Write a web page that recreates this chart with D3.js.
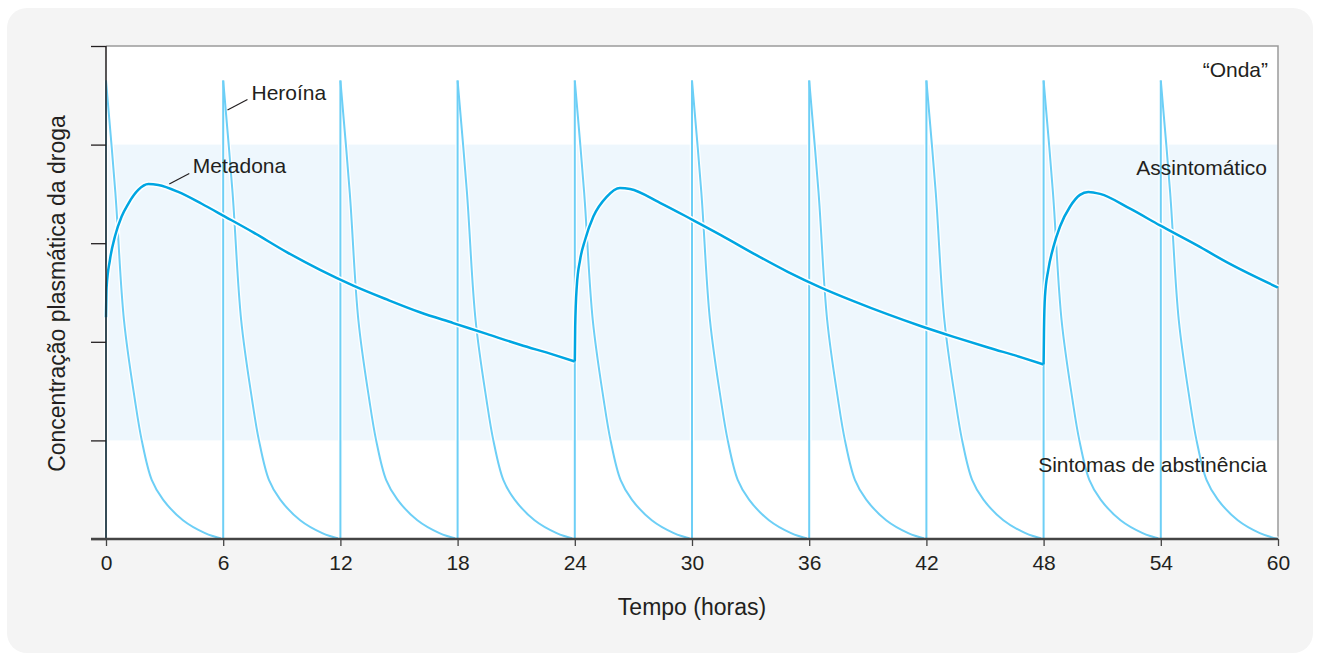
<!DOCTYPE html>
<html>
<head>
<meta charset="utf-8">
<script src="https://cdn.jsdelivr.net/npm/d3@7"></script>
<style>
  html, body { margin: 0; padding: 0; background: #ffffff; }
  svg { display: block; }
  text { font-family: "Liberation Sans", Arial, Helvetica, sans-serif; fill: #231f20; }
</style>
</head>
<body>
<svg id="chart" width="1321" height="655"></svg>
<script>
// Hours on the x axis, ticks every 6 h
const xTicks = [0, 6, 12, 18, 24, 30, 36, 42, 48, 54, 60];
// Concentration axis: unlabeled ticks
const yTicks = [0, 1, 2, 3, 4, 5];
// Asymptomatic window (between withdrawal and "high")
const comfortBand = [1, 4];

// Heroin: a dose every 6 hours
const heroinDoses = [0, 6, 12, 18, 24, 30, 36, 42, 48, 54];
const heroinPeak = 4.65;
// Decay after each heroin dose: [hours since dose, concentration]
const heroinDecay = [
  [0, 4.65], [0.48, 3.51], [0.92, 2.22], [1.48, 1.41], [1.83, 1.0],
  [2.34, 0.60], [2.92, 0.40], [3.94, 0.19], [5.07, 0.06], [6.0, 0]
];

// Methadone: one dose every 24 hours, [hours, concentration]
const methadoneDay1 = [
  [0, 2.25], [0.03, 2.55], [0.2, 2.83], [0.46, 3.07], [0.8, 3.27], [1.14, 3.40],
  [1.65, 3.54], [2.17, 3.60], [2.68, 3.59], [3.70, 3.52], [4.9, 3.40], [6.09, 3.27],
  [7.54, 3.11], [9.25, 2.91], [10.96, 2.73], [12.66, 2.57], [14.37, 2.43],
  [16.07, 2.30], [17.78, 2.19], [19.49, 2.08], [21.2, 1.97], [22.9, 1.87], [24, 1.80]
];
const methadoneDay2 = [
  [24, 1.80], [24.02, 2.15], [24.1, 2.56], [24.27, 2.83], [24.52, 3.03],
  [24.95, 3.27], [25.63, 3.47], [26.31, 3.56], [26.83, 3.55], [28.36, 3.41],
  [30.0, 3.24], [31.5, 3.08], [33.2, 2.89], [34.9, 2.71], [36.6, 2.55],
  [38.3, 2.41], [40.0, 2.28], [41.7, 2.16], [43.4, 2.05], [45.2, 1.94],
  [46.9, 1.84], [48, 1.77]
];
const methadoneDay3 = [
  [48, 1.77], [48.02, 2.12], [48.07, 2.46], [48.24, 2.73], [48.5, 2.96],
  [48.84, 3.17], [49.35, 3.37], [49.86, 3.49], [50.29, 3.52], [50.89, 3.50],
  [52.43, 3.35], [53.96, 3.18], [55.84, 2.98], [57.54, 2.79], [60, 2.55]
];

const svg = d3.select("#chart");
const plot = { left: 106, right: 1278, top: 46, bottom: 539 };

const x = d3.scaleLinear().domain([0, 60]).range([plot.left, plot.right]);
const y = d3.scaleLinear().domain([0, 5]).range([plot.bottom, plot.top]);

// Rounded grey card behind everything
svg.append("rect")
  .attr("x", 7).attr("y", 8).attr("width", 1306).attr("height", 645)
  .attr("rx", 20).attr("ry", 20)
  .attr("fill", "#f4f4f4");

// Plot background
svg.append("rect")
  .attr("x", x(0)).attr("y", y(5))
  .attr("width", x(60) - x(0)).attr("height", y(0) - y(5))
  .attr("fill", "#ffffff");

// Asymptomatic band
svg.append("rect")
  .attr("x", x(0)).attr("y", y(comfortBand[1]))
  .attr("width", x(60) - x(0)).attr("height", y(comfortBand[0]) - y(comfortBand[1]))
  .attr("fill", "#eef7fd");

// Top and right frame
svg.append("path")
  .attr("d", `M${x(0)},${y(5)}H${x(60)}V${y(0)}`)
  .attr("fill", "none").attr("stroke", "#9a9a9a").attr("stroke-width", 1.5);

// Heroin curves
const heroinLine = d3.line()
  .x(d => x(d[0])).y(d => y(d[1]))
  .curve(d3.curveCatmullRom.alpha(0.5));

const heroinG = svg.append("g");
heroinDoses.forEach(t0 => {
  const pts = heroinDecay.map(d => [t0 + d[0], d[1]]);
  const spike = `M${x(t0)},${y(0)}V${y(heroinPeak)}`;
  [["#ffffff", 4.5], ["#6dcff6", 2]].forEach(([c, w]) => {
    heroinG.append("path").attr("d", spike)
      .attr("fill", "none").attr("stroke", c).attr("stroke-width", w);
    heroinG.append("path").attr("d", heroinLine(pts))
      .attr("fill", "none").attr("stroke", c).attr("stroke-width", w);
  });
});

// Methadone curves
const methLine = d3.line()
  .x(d => x(d[0])).y(d => y(d[1]))
  .curve(d3.curveMonotoneX);
const methG = svg.append("g");
const methSegments = [methadoneDay1, methadoneDay2, methadoneDay3];
methSegments.forEach(seg => {
  methG.append("path").attr("d", methLine(seg))
    .attr("fill", "none").attr("stroke", "#ffffff").attr("stroke-width", 5.5);
});
methSegments.forEach(seg => {
  methG.append("path").attr("d", methLine(seg))
    .attr("fill", "none").attr("stroke", "#00a6e2").attr("stroke-width", 2.5)
    .attr("stroke-linejoin", "round");
});

// Y axis: ticks only
const yAxis = svg.append("g")
  .attr("transform", `translate(${plot.left},0)`)
  .call(d3.axisLeft(y).tickValues(yTicks).tickSize(15).tickFormat(""));
yAxis.select(".domain").attr("stroke", "#231f20").attr("stroke-width", 1.5)
  .attr("d", `M0,${y(5)}V${y(0)}`);
yAxis.selectAll(".tick line").attr("stroke", "#231f20").attr("stroke-width", 1.3);

// X axis
const xAxis = svg.append("g")
  .attr("transform", `translate(0,${plot.bottom})`)
  .call(d3.axisBottom(x).tickValues(xTicks).tickSize(7).tickPadding(8));
xAxis.attr("font-family", null).attr("font-size", null);
xAxis.select(".domain").attr("stroke", "#444444").attr("stroke-width", 2.5)
  .attr("d", `M${x(0) - 15},0H${x(60)}`);
xAxis.selectAll(".tick line").attr("stroke", "#444444").attr("stroke-width", 1.3);
xAxis.selectAll(".tick text")
  .attr("y", 31).attr("dy", 0)
  .attr("font-family", "Liberation Sans, Arial, sans-serif")
  .attr("font-size", 21)
  .attr("fill", "#231f20");

// Axis titles
svg.append("text")
  .attr("x", (plot.left + plot.right) / 2).attr("y", 615)
  .attr("text-anchor", "middle").style("font-size", "23px")
  .text("Tempo (horas)");
svg.append("text")
  .attr("transform", `translate(65,${(plot.top + plot.bottom) / 2 + 1}) rotate(-90)`)
  .attr("text-anchor", "middle").style("font-size", "23px")
  .text("Concentração plasmática da droga");

// Region labels
svg.append("text")
  .attr("x", x(60) - 10).attr("y", 77).attr("text-anchor", "end")
  .style("font-size", "21px").text("“Onda”");
svg.append("text")
  .attr("x", x(60) - 11).attr("y", 175).attr("text-anchor", "end")
  .style("font-size", "21px").text("Assintomático");
svg.append("text")
  .attr("x", x(60) - 11).attr("y", 472).attr("text-anchor", "end")
  .style("font-size", "21px").text("Sintomas de abstinência");

// Series labels with leader lines
const heroinAnchor = [x(6.22), y(4.35)];
svg.append("line")
  .attr("x1", heroinAnchor[0]).attr("y1", heroinAnchor[1])
  .attr("x2", heroinAnchor[0] + 20).attr("y2", heroinAnchor[1] - 10.5)
  .attr("stroke", "#231f20").attr("stroke-width", 1.2);
svg.append("text")
  .attr("x", heroinAnchor[0] + 24).attr("y", heroinAnchor[1] - 10)
  .style("font-size", "21px").text("Heroína");

const methAnchor = [x(3.24), y(3.6)];
svg.append("line")
  .attr("x1", methAnchor[0]).attr("y1", methAnchor[1])
  .attr("x2", methAnchor[0] + 20).attr("y2", methAnchor[1] - 10.5)
  .attr("stroke", "#231f20").attr("stroke-width", 1.2);
svg.append("text")
  .attr("x", methAnchor[0] + 23.5).attr("y", methAnchor[1] - 11.5)
  .style("font-size", "21px").text("Metadona");
</script>
</body>
</html>
